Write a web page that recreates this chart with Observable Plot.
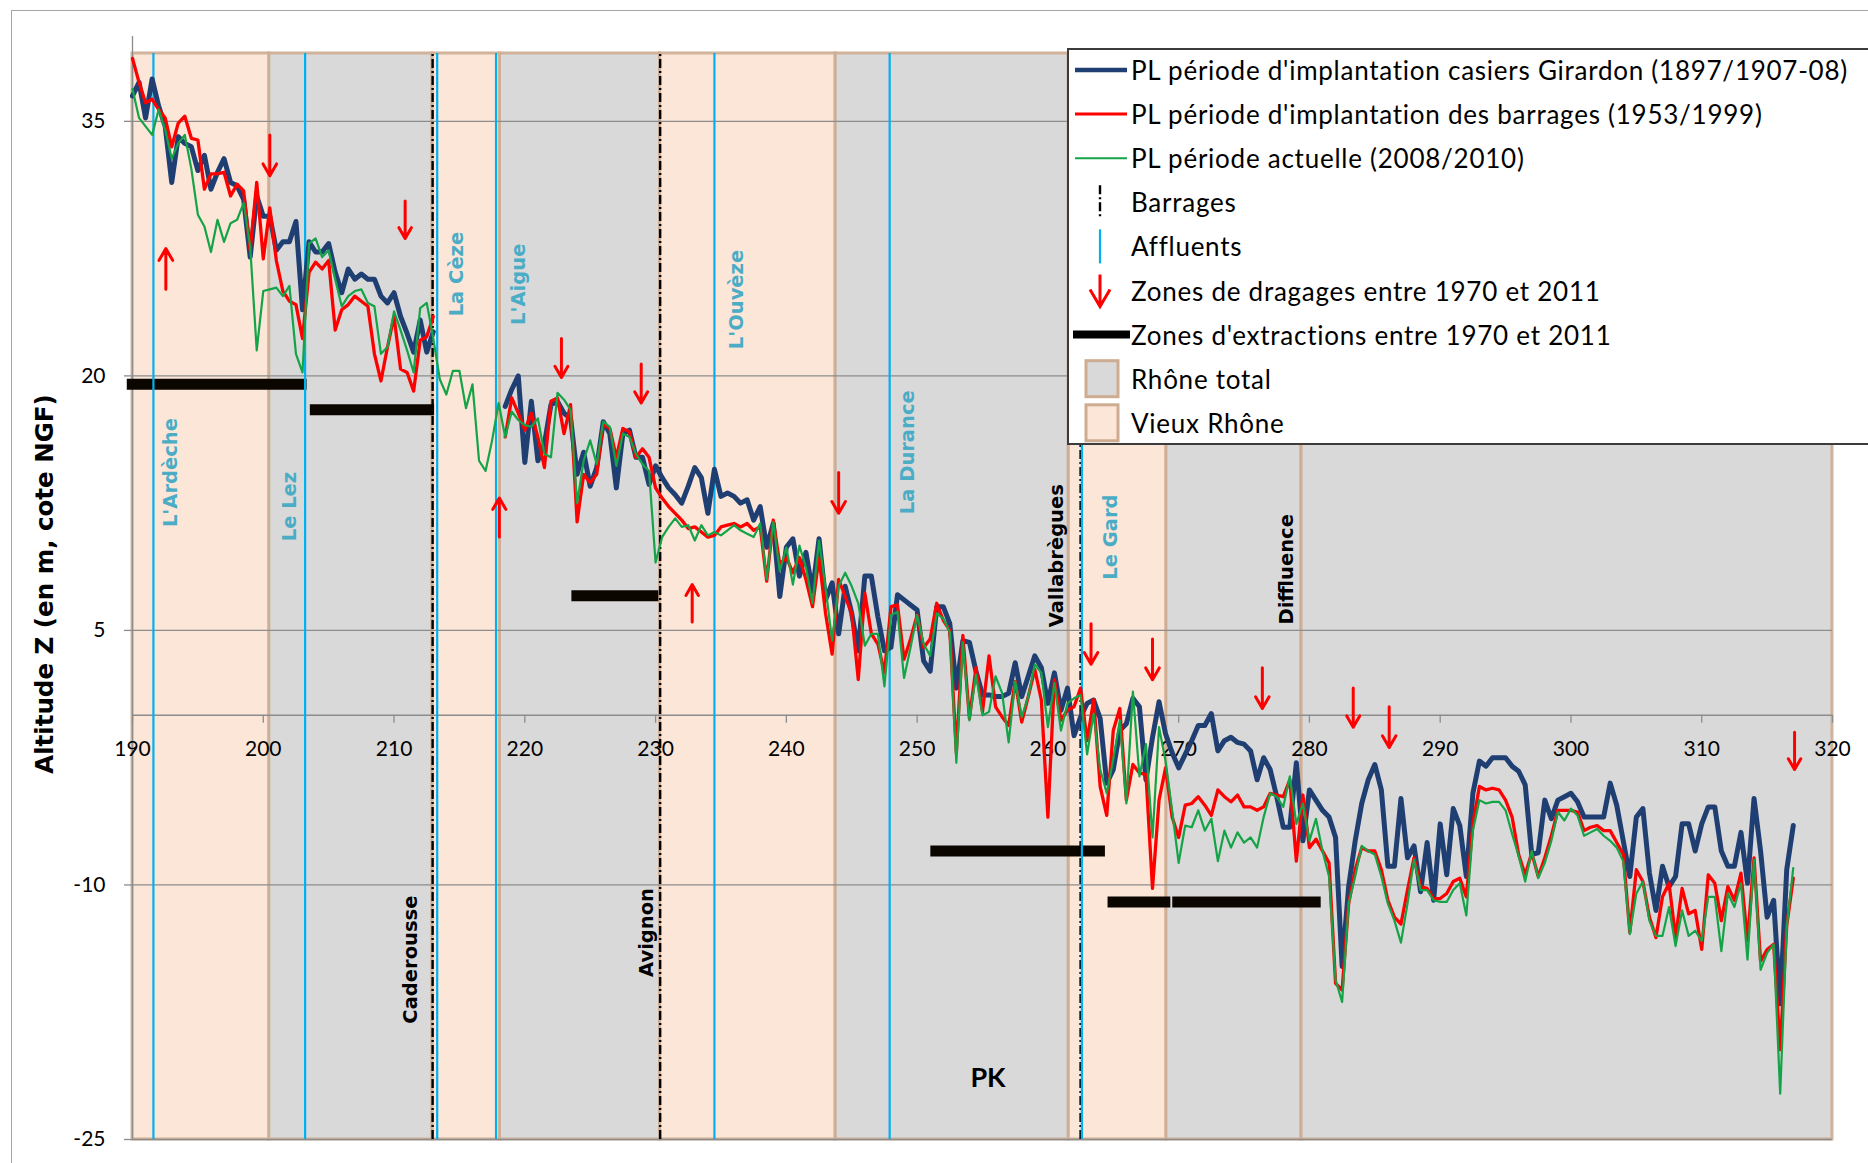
<!DOCTYPE html>
<html>
<head>
<meta charset="utf-8">
<script src="https://cdn.jsdelivr.net/npm/d3@7"></script>
<script src="https://cdn.jsdelivr.net/npm/@observablehq/plot@0.6"></script>
<style>
  html, body { margin: 0; padding: 0; background: #fff; }
  #wrap { position: relative; width: 1868px; height: 1163px; overflow: hidden; background: #fff; }
  #wrap > svg.plot { position: absolute; left: 0; top: 0; }
  #frame { position: absolute; left: 11px; top: 10px; width: 1900px; height: 1200px; border: 1.5px solid #a6a6a6; box-sizing: border-box; pointer-events: none; }
  .overlay { position: absolute; left: 0; top: 0; }
</style>
</head>
<body>
<div id="wrap"><div id="frame"></div></div>
<script>
// ---------------- DATA ----------------
// Points kilométriques (PK) : premier point et pas des profils en long
const pkStart = 190;
const pkStep = 0.5;

// PL période d'implantation casiers Girardon (1897/1907-08)
const girardon = [
  36.5, 37.3, 35.2, 37.5, 35.9, 34.7, 31.4, 34.1, 33.7, 33.5,
  32.1, 33.0, 31.0, 32.0, 32.8, 31.4, 31.2, 30.4, 27.0, 30.6,
  29.4, 29.4, 27.4, 27.9, 27.9, 29.1, 23.9, 27.9, 27.3, 27.3,
  27.8, 26.1, 24.9, 26.3, 25.7, 26.0, 25.7, 25.7, 24.7, 24.3,
  24.9, 23.5, 22.5, 21.4, 23.3, 21.4, 22.6, null, null, null,
  null, null, null, null, null, null, null, 18.2, 19.2, 20.0,
  14.9, 18.5, 15.0, 16.0, 18.3, 18.5, 17.8, 17.5, 14.2, 15.5,
  13.5, 14.6, 17.3, 16.6, 13.4, 16.6, 16.8, 15.2, 15.2, 13.6,
  14.7, 14.0, 13.4, 13.0, 12.5, 13.5, 14.6, 14.0, 11.9, 14.5,
  12.9, 13.1, 12.9, 12.5, 12.7, 11.5, 12.3, 9.9, 11.3, 7.0,
  9.9, 10.4, 8.2, 9.6, 7.3, 10.4, 6.8, 7.8, 4.8, 7.6,
  6.0, 3.8, 8.2, 8.2, 5.8, 3.8, 4.0, 7.1, 6.8, 6.5,
  6.2, 3.2, 2.6, 6.4, 6.4, 5.4, 1.6, 4.4, 4.3, 2.6,
  1.2, 1.2, 1.1, 1.1, 1.3, 3.1, 1.1, 2.3, 3.5, 2.8,
  0.7, 2.5, 0.3, 1.6, -1.2, -0.1, 0.7, 0.9, -0.2, -4.0,
  -3.2, -0.9, -0.5, 1.0, 0.5, -3.8, -1.3, 0.8, -1.1, -2.2,
  -3.1, -2.3, -1.5, -0.6, -0.6, 0.1, -2.1, -1.5, -1.3, -1.6,
  -1.7, -2.1, -3.8, -2.5, -3.2, -4.8, -6.6, -6.6, -2.8, -7.4,
  -4.4, -5.0, -5.6, -6.0, -7.2, -14.8, -10.1, -7.4, -5.2, -3.8,
  -2.9, -4.4, -8.9, -8.9, -4.9, -8.4, -7.7, -10.4, -7.5, -10.9,
  -6.4, -9.4, -5.5, -6.5, -9.5, -4.6, -2.7, -3.0, -2.5, -2.5,
  -2.5, -3.0, -3.3, -4.1, -8.2, -8.1, -5.0, -6.1, -5.0, -4.8,
  -4.6, -5.1, -6.0, -6.0, -6.0, -6.0, -4.0, -5.3, -7.4, -9.5,
  -6.0, -5.5, -9.3, -11.5, -8.9, -10.1, -9.5, -6.4, -6.4, -8.0,
  -6.4, -5.4, -5.4, -8.0, -8.9, -8.9, -6.9, -9.9, -4.9, -8.0,
  -11.9, -10.9, -17.0, -9.1, -6.5
];

// PL période d'implantation des barrages (1953/1999)
const barragesPL = [
  38.7, 37.3, 36.1, 36.3, 35.7, 35.2, 33.5, 34.9, 35.3, 34.0,
  33.9, 31.0, 31.9, 31.9, 32.0, 30.6, 31.3, 30.9, 27.4, 31.4,
  26.9, 29.9, 26.8, 25.0, 24.4, 24.2, 22.2, 26.1, 26.7, 26.3,
  26.8, 22.7, 23.9, 24.2, 24.7, 24.4, 24.1, 21.3, 19.7, 21.7,
  23.5, 20.4, 20.2, 19.1, 22.1, 22.3, 23.5, null, null, null,
  null, null, null, null, null, null, null, 16.4, 18.7, 17.8,
  16.8, 17.8, 16.4, 14.6, 18.5, 18.7, 16.6, 18.3, 11.4, 14.2,
  13.7, 14.2, 17.2, 16.9, 15.2, 16.9, 16.7, 15.2, 15.7, 15.2,
  13.4, 12.8, 12.3, 11.9, 11.5, 11.0, 11.1, 10.8, 10.5, 10.6,
  11.1, 11.2, 11.3, 11.1, 11.3, 10.9, 11.1, 7.9, 11.5, 8.9,
  9.3, 8.4, 9.3, 8.0, 6.4, 9.3, 6.0, 3.6, 8.0, 7.0,
  6.0, 2.1, 7.2, 4.8, 4.2, 2.5, 6.4, 6.5, 3.3, 4.5,
  5.9, 4.0, 4.5, 6.6, 5.6, 5.0, -2.2, 4.7, -0.2, 2.8,
  0.2, 3.5, 0.5, -0.1, -0.6, 2.0, -0.4, 1.1, 2.7, 0.9,
  -6.0, 2.1, -0.3, 0.3, 0.5, 1.6, -1.5, 0.9, -4.2, -5.9,
  -0.9, 0.4, -5.0, -2.9, -3.4, -3.5, -10.2, -5.0, -3.1, -6.0,
  -7.2, -5.3, -5.2, -4.8, -5.3, -5.9, -4.4, -4.8, -5.1, -4.7,
  -5.4, -5.4, -5.6, -5.4, -4.6, -4.7, -4.8, -3.8, -8.6, -4.7,
  -7.8, -7.3, -8.0, -8.7, -15.8, -16.2, -11.1, -9.1, -7.8, -8.0,
  -8.0, -9.1, -10.9, -11.9, -12.3, -10.3, -8.4, -10.1, -10.2, -10.8,
  -10.8, -10.5, -9.8, -9.6, -10.7, -6.4, -4.2, -4.4, -4.3, -4.4,
  -5.0, -6.0, -8.2, -9.4, -8.1, -9.5, -8.4, -7.1, -5.6, -5.6,
  -5.6, -5.7, -6.8, -6.6, -6.5, -6.8, -6.8, -7.5, -8.2, -12.8,
  -9.1, -9.8, -11.9, -13.1, -10.7, -9.9, -13.1, -10.2, -11.7, -11.5,
  -13.8, -9.4, -9.9, -12.1, -10.1, -10.9, -9.3, -13.3, -8.4, -14.5,
  -13.8, -13.5, -19.7, -12.4, -9.6
];

// PL période actuelle (2008/2010)
const actuelle = [
  36.9, 35.2, 34.7, 34.2, 35.7, 34.5, 32.8, 33.7, 34.2, 32.2,
  29.5, 28.8, 27.3, 29.2, 27.9, 29.0, 29.2, 30.2, 27.6, 21.5,
  25.0, 25.1, 25.2, 24.7, 25.3, 21.3, 20.2, 27.8, 28.1, 27.0,
  27.4, 25.7, 24.1, 24.7, 25.0, 25.1, 24.3, 24.1, 21.3, 21.7,
  23.8, 22.7, 21.5, 20.2, 24.0, 24.3, 22.2, 19.8, 18.9, 20.3,
  20.3, 18.1, 19.5, 15.0, 14.4, 16.2, 18.4, 16.4, 17.9, 17.4,
  17.1, 17.0, 17.5, 15.4, 15.2, 19.0, 18.6, 18.0, 12.5, 15.0,
  16.2, 14.8, 17.3, 17.0, 14.7, 16.6, 16.4, 15.4, 14.8, 14.4,
  9.0, 10.5, 11.1, 11.6, 11.1, 11.2, 10.3, 11.2, 10.6, 10.8,
  10.6, 10.9, 11.2, 10.9, 10.7, 10.5, 11.3, 8.0, 11.4, 8.5,
  9.9, 7.7, 10.0, 8.7, 6.6, 10.3, 7.5, 4.4, 7.6, 8.4,
  7.6, 6.6, 4.1, 4.8, 4.8, 1.7, 5.9, 6.1, 2.2, 4.0,
  5.9, 4.2, 3.5, 6.0, 5.7, 4.9, -2.8, 4.3, -0.3, 2.4,
  0.0, 0.2, 2.3, 1.3, -1.6, 2.0, -0.1, 1.1, 3.0, 2.5,
  -0.7, 1.9, -0.9, 0.7, 1.0, 1.2, -2.3, 0.1, -3.2, -4.6,
  -2.6, -0.3, -5.2, 1.4, -3.6, -1.7, -7.2, -0.7, -2.7, -5.6,
  -8.7, -6.5, -6.6, -5.6, -6.8, -6.1, -8.6, -6.8, -7.8, -6.9,
  -7.5, -7.2, -7.8, -6.0, -4.6, -4.8, -5.4, -3.6, -6.4, -5.2,
  -7.4, -6.1, -8.0, -9.5, -15.6, -16.9, -11.1, -9.5, -7.7, -8.0,
  -8.2, -9.5, -11.1, -12.1, -13.4, -11.1, -8.5, -10.3, -10.3, -10.9,
  -11.0, -11.0, -10.3, -9.9, -11.8, -6.8, -5.0, -5.2, -5.1, -5.1,
  -5.6, -7.0, -8.3, -9.8, -8.0, -9.6, -8.7, -7.4, -5.7, -6.2,
  -5.5, -5.9, -7.1, -6.9, -6.7, -7.1, -7.4, -7.8, -8.6, -12.9,
  -10.5, -9.8, -12.1, -13.0, -13.0, -11.3, -13.6, -11.5, -13.0, -12.7,
  -13.3, -10.7, -10.7, -13.9, -10.5, -11.3, -9.9, -14.4, -8.5, -15.0,
  -14.0, -13.5, -22.3, -12.5, -9.0
];

// Tronçons (Vieux Rhône / Rhône total)
const bandStart = [190, 200.45, 212.95, 218.1, 230.35, 243.75, 261.6, 269.05, 279.4];
const bandEnd   = [200.45, 212.95, 218.1, 230.35, 243.75, 261.6, 269.05, 279.4, 320];
const bandKind  = ["Vieux Rhône", "Rhône total", "Vieux Rhône", "Rhône total", "Vieux Rhône", "Rhône total", "Vieux Rhône", "Rhône total", "Rhône total"];
const bandTop = 39, bandBottom = -25;

// Affluents
const affluentNames = ["L'Ardèche", "Le Lez", "La Cèze", "L'Aigue", "L'Ouvèze", "La Durance", "Le Gard"];
const affluentPK    = [191.6, 203.2, 213.3, 217.8, 234.5, 247.9, 262.6];

// Barrages
const barrageNames = ["Caderousse", "Avignon", "Vallabrègues"];
const barragePK    = [212.95, 230.35, 262.5];

// Zones d'extractions entre 1970 et 2011
const extrFrom = [189.6, 203.6, 223.6, 251.05, 264.6, 269.55];
const extrTo   = [203.35, 213.1, 230.25, 264.4, 269.4, 280.9];
const extrZ    = [19.5, 18.0, 7.05, -8.0, -11.0, -11.0];

// Zones de dragages (flèches) : PK, cote de départ, cote de la pointe
const dragPK   = [200.5, 210.85, 222.8, 228.9, 244.0, 263.3, 268.0, 276.4, 283.35, 286.1, 317.1, 192.55, 218.05, 232.8];
const dragFrom = [34.2, 30.3, 22.2, 20.7, 14.3, 5.4, 4.5, 2.8, 1.6, 0.5, -1.0, 25.1, 10.5, 5.5];
const dragTo   = [31.8, 28.1, 19.9, 18.4, 11.9, 3.0, 2.1, 0.4, -0.7, -1.9, -3.2, 27.5, 12.8, 7.7];

// Axes
const xTicks = [190, 200, 210, 220, 230, 240, 250, 260, 270, 280, 290, 300, 310, 320];
const yTicks = [35, 20, 5, -10, -25];
const xDomain = [190, 320];
const yDomain = [-25, 40];

// Textes
const seriesNames = [
  "PL période d'implantation casiers Girardon (1897/1907-08)",
  "PL période d'implantation des barrages (1953/1999)",
  "PL période actuelle (2008/2010)"
];
const legendOther = ["Barrages", "Affluents", "Zones de dragages entre 1970 et 2011", "Zones d'extractions entre 1970 et 2011", "Rhône total", "Vieux Rhône"];
const yTitle = "Altitude Z (en m, cote NGF)";
const xTitle = "PK";
const extraName = "Diffluence";

// ---------------- LAYOUT (label placement) ----------------
const affluentLabelX = [192.9, 202.0, 214.8, 219.5, 236.2, 249.3, 264.8];
const affluentLabelY = [14.3, 12.3, 26.0, 25.4, 24.5, 15.5, 10.5];
const barrageLabelX = [211.3, 229.35, 260.65];
const barrageLabelY = [-14.4, -12.8, 9.4];
const extraLabelX = 278.25, extraLabelY = 8.6;

// ---------------- STYLE ----------------
const C = {
  blue: "#1F3F73", red: "#FF0000", green: "#14A346",
  peach: "#FBE6D8", gray: "#D9D9D9", bandStroke: "#CDAC91",
  grid: "#8C8C8C", cyan: "#00B0F0", cyanText: "#4BACC6"
};
const SANS = "Lato, 'Open Sans', sans-serif";
const BOLD = "'DejaVu Sans', Verdana, sans-serif";

// ---------------- BUILD ----------------
const pk = girardon.map((_, i) => pkStart + i * pkStep);
const mk = vals => vals.map((v, i) => ({pk: pk[i], z: v}));
const dGir = mk(girardon), dBar = mk(barragesPL), dAct = mk(actuelle);

const bands = bandStart.map((s, i) => ({x1: s, x2: bandEnd[i], kind: bandKind[i]}));
const extr = extrFrom.map((s, i) => ({x1: s, x2: extrTo[i], z: extrZ[i]}));
const drags = dragPK.map((p, i) => ({pk: p, from: dragFrom[i], to: dragTo[i]}));
const affLabels = affluentNames.map((n, i) => ({name: n, x: affluentLabelX[i], y: affluentLabelY[i]}));
const barLabels = barrageNames.map((n, i) => ({name: n, x: barrageLabelX[i], y: barrageLabelY[i]}));
barLabels.push({name: extraName, x: extraLabelX, y: extraLabelY});

const plot = Plot.plot({
  width: 1868, height: 1163,
  marginLeft: 132, marginRight: 36, marginTop: 36, marginBottom: 24,
  x: {domain: xDomain, axis: null},
  y: {domain: yDomain, axis: null},
  style: {background: "transparent", fontFamily: SANS},
  marks: [
    Plot.rect(bands.filter(d => d.kind === "Rhône total"), {x1: "x1", x2: "x2", y1: bandBottom, y2: bandTop, fill: C.gray, stroke: C.bandStroke, strokeWidth: 3, strokeOpacity: 0.9}),
    Plot.rect(bands.filter(d => d.kind === "Vieux Rhône"), {x1: "x1", x2: "x2", y1: bandBottom, y2: bandTop, fill: C.peach, stroke: C.bandStroke, strokeWidth: 3, strokeOpacity: 0.9}),
    // grid & axes
    Plot.ruleY(yTicks, {x1: xDomain[0], x2: xDomain[1], stroke: C.grid, strokeWidth: 1.3}),
    Plot.ruleY(yTicks, {x1: xDomain[0], x2: xDomain[0], insetLeft: -8, stroke: C.grid, strokeWidth: 1.3}),
    Plot.ruleX([xDomain[0]], {y1: yDomain[0], y2: yDomain[1], stroke: C.grid, strokeWidth: 1.3}),
    Plot.ruleY([0], {x1: xDomain[0], x2: xDomain[1], stroke: C.grid, strokeWidth: 1.3}),
    Plot.ruleX(xTicks, {y1: 0, y2: 0, insetBottom: -8, stroke: C.grid, strokeWidth: 1.3}),
    Plot.text(yTicks, {x: xDomain[0], y: d => d, dx: -27, text: d => String(d), textAnchor: "end", fontSize: 21, fill: "#000", fontFamily: SANS}),
    Plot.text(xTicks, {x: d => d, y: 0, dy: 34, text: d => String(d), fontSize: 21, fill: "#000", fontFamily: SANS}),
    // extraction zones
    Plot.ruleY(extr, {x1: "x1", x2: "x2", y: "z", stroke: "#0c0600", strokeWidth: 11}),
    // barrages and affluents
    Plot.ruleX(barragePK, {y1: bandBottom, y2: bandTop, stroke: "#000", strokeWidth: 2.4, strokeDasharray: "9,3,2,3"}),
    Plot.ruleX(affluentPK, {y1: bandBottom, y2: bandTop, stroke: C.cyan, strokeWidth: 2.2}),
    // profiles
    Plot.line(dGir, {x: "pk", y: "z", stroke: C.blue, strokeWidth: 5, strokeLinejoin: "round"}),
    Plot.line(dBar, {x: "pk", y: "z", stroke: C.red, strokeWidth: 3.3, strokeLinejoin: "round"}),
    Plot.line(dAct, {x: "pk", y: "z", stroke: C.green, strokeWidth: 2.2, strokeLinejoin: "round"}),
    // dredging arrows
    Plot.arrow(drags, {x1: "pk", y1: "from", x2: "pk", y2: "to", stroke: C.red, strokeWidth: 3, headLength: 20, headAngle: 60}),
    // labels
    Plot.text(affLabels, {x: "x", y: "y", text: "name", rotate: -90, fill: C.cyanText, fontWeight: "bold", fontSize: 19.5, fontFamily: BOLD}),
    Plot.text(barLabels, {x: "x", y: "y", text: "name", rotate: -90, fill: "#000", fontWeight: "bold", fontSize: 19.5, fontFamily: BOLD})
  ]
});
plot.classList.add("plot");
const wrap = document.getElementById("wrap");
wrap.insertBefore(plot, document.getElementById("frame"));

// ---- titles overlay ----
const ov = d3.select(wrap).append("svg").attr("class", "overlay")
  .attr("width", 1868).attr("height", 1163).style("pointer-events", "none");
ov.append("text").attr("transform", "translate(44,584) rotate(-90)")
  .attr("text-anchor", "middle").attr("dominant-baseline", "central")
  .attr("font-family", BOLD).attr("font-weight", "bold").attr("font-size", 24.5)
  .text(yTitle);
ov.append("text").attr("x", 988).attr("y", 1076)
  .attr("text-anchor", "middle").attr("dominant-baseline", "central")
  .attr("font-family", SANS).attr("font-weight", "bold").attr("font-size", 27)
  .text(xTitle);

// ---- legend ----
const lg = d3.select(wrap).append("svg").attr("class", "overlay")
  .style("left", "1067px").style("top", "48px")
  .attr("width", 801).attr("height", 398);
lg.append("rect").attr("x", 1).attr("y", 1).attr("width", 830).attr("height", 395)
  .attr("fill", "#fff").attr("stroke", "#3c3c3c").attr("stroke-width", 2);
const rowY = i => 22 + i * 44.1;
const labels = seriesNames.concat(legendOther);
labels.forEach((t, i) => {
  lg.append("text").attr("x", 64).attr("y", rowY(i)).attr("dominant-baseline", "central")
    .attr("font-family", SANS).attr("font-size", 26).attr("letter-spacing", "0.75px")
    .attr("fill", "#000").text(t);
});
[[C.blue, 4.5], [C.red, 3], [C.green, 2]].forEach(([c, w], i) => {
  lg.append("line").attr("x1", 8).attr("x2", 60).attr("y1", rowY(i)).attr("y2", rowY(i))
    .attr("stroke", c).attr("stroke-width", w);
});
lg.append("line").attr("x1", 33).attr("x2", 33).attr("y1", rowY(3) - 17).attr("y2", rowY(3) + 17)
  .attr("stroke", "#000").attr("stroke-width", 2.4).attr("stroke-dasharray", "9,3,2,3");
lg.append("line").attr("x1", 33).attr("x2", 33).attr("y1", rowY(4) - 17).attr("y2", rowY(4) + 17)
  .attr("stroke", C.cyan).attr("stroke-width", 2.2);
{
  const y0 = rowY(5) - 16, y1 = rowY(5) + 16;
  lg.append("path").attr("d", `M33,${y0}L33,${y1}M23,${y1 - 17}L33,${y1}L43,${y1 - 17}`)
    .attr("fill", "none").attr("stroke", C.red).attr("stroke-width", 3);
}
lg.append("line").attr("x1", 6).attr("x2", 63).attr("y1", rowY(6)).attr("y2", rowY(6))
  .attr("stroke", "#000").attr("stroke-width", 8);
[[C.gray, 7], [C.peach, 8]].forEach(([c, i]) => {
  lg.append("rect").attr("x", 19).attr("y", rowY(i) - 18).attr("width", 32).attr("height", 36)
    .attr("fill", c).attr("stroke", C.bandStroke).attr("stroke-width", 3);
});
</script>
</body>
</html>
